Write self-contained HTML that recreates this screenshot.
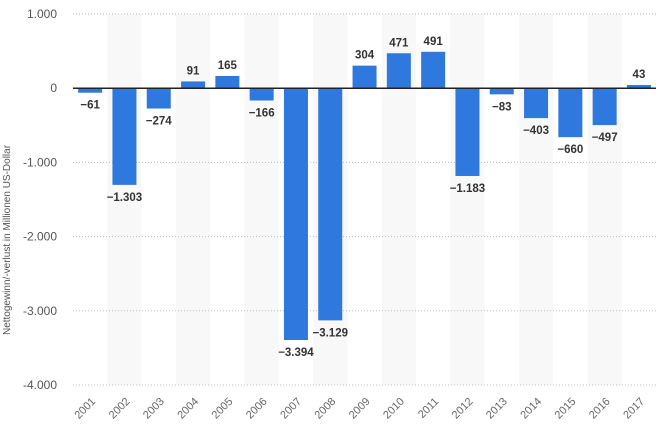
<!DOCTYPE html>
<html><head><meta charset="utf-8"><style>
body{margin:0;background:#fff;font-family:"Liberation Sans",sans-serif}
</style></head><body>
<svg id="chart" width="660" height="439" xmlns="http://www.w3.org/2000/svg"></svg>
<script>
const categories=["2001","2002","2003","2004","2005","2006","2007","2008","2009","2010","2011","2012","2013","2014","2015","2016","2017"];
const values=[-61,-1303,-274,91,165,-166,-3394,-3129,304,471,491,-1183,-83,-403,-660,-497,43];
const valueLabels=["−61","−1.303","−274","91","165","−166","−3.394","−3.129","304","471","491","−1.183","−83","−403","−660","−497","43"];
const yTicks=[1000,0,-1000,-2000,-3000,-4000];
const yTickLabels=["1.000","0","-1.000","-2.000","-3.000","-4.000"];
const NS="http://www.w3.org/2000/svg";
const svg=document.getElementById('chart');
const x0=73,bw=34.3,yMax=1000,yMin=-4000,plotTop=14,plotBot=385;
const y=v=>plotTop+(yMax-v)/(yMax-yMin)*(plotBot-plotTop);
const xb=i=>x0+i*bw;
function mk(t,a){const e=document.createElementNS(NS,t);for(const k in a)e.setAttribute(k,a[k]);svg.appendChild(e);return e;}
categories.forEach((c,i)=>{if(i%2===1){const r=mk('rect',{x:xb(i),y:plotTop,width:bw,height:plotBot-plotTop,fill:'#f8f8f8'});

}});
yTicks.forEach((t,i)=>{
 if(t!==0){const l=mk('line',{x1:x0,x2:656,y1:y(t),y2:y(t),stroke:'#bbb','stroke-dasharray':'1,2'});
 
 }
 const tx=mk('text',{x:57,y:y(t)+4,'text-anchor':'end','font-size':12,fill:'#555'});tx.textContent=yTickLabels[i];
 
 
});
categories.forEach((c,i)=>{
 const v=values[i],cx=xb(i)+bw/2;
 const r=mk('rect',{x:cx-12,y:Math.min(y(v),y(0)),width:24,height:Math.abs(y(v)-y(0)),fill:'#2f78de'});
 
 
 const ly=v>=0?y(v)-7:y(v)+16;
 const t=mk('text',{x:cx,y:ly,'text-anchor':'middle','font-size':11.5,'font-weight':'bold',fill:'#333'});t.textContent=valueLabels[i];
 
 
 const xl=mk('text',{x:cx+6,y:plotBot+17,'text-anchor':'end','font-size':11,fill:'#666',transform:`rotate(-45 ${cx+6} ${plotBot+17})`});xl.textContent=c;
 
 
});
const z=mk('line',{x1:x0,x2:656,y1:y(0),y2:y(0),stroke:'#222','stroke-width':1.5});


const yt=mk('text',{x:10,y:240,'text-anchor':'middle','font-size':10,fill:'#555',transform:'rotate(-90 10 240)'});
yt.textContent='Nettogewinn/-verlust in Millionen US-Dollar';


</script>
</body></html>
